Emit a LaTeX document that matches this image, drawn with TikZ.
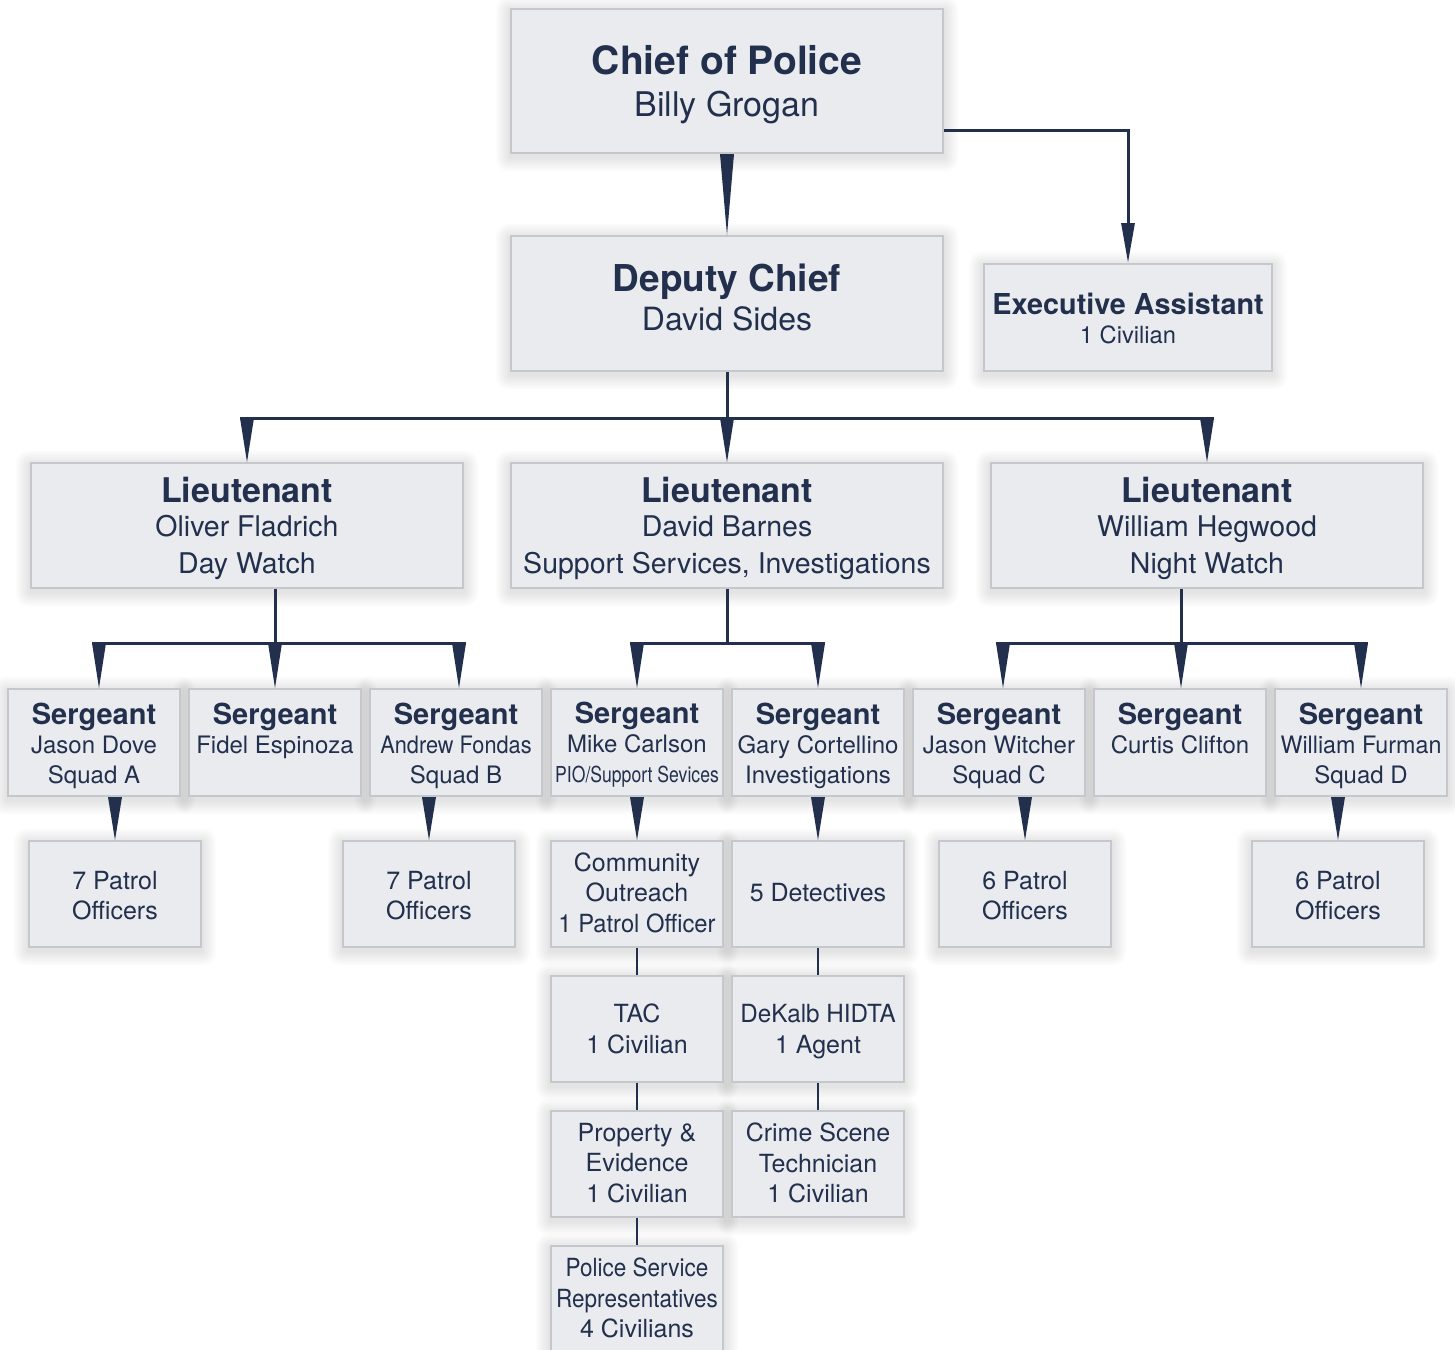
\documentclass[tikz,border=0pt]{standalone}
\usepackage{fontspec}
\setmainfont{TeX Gyre Heros}
\usepackage{graphicx}
\usetikzlibrary{calc,arrows.meta}
\definecolor{navy}{HTML}{23304D}
\definecolor{bxfill}{HTML}{E9EBEE}
\definecolor{bxline}{HTML}{C4C7CC}
\newcommand\hsq[2]{\scalebox{#1}[1]{#2}}
\newcommand\fs[1]{\fontsize{#1}{#1}\selectfont}
\newcommand\tcon[2]{\fill[navy] ($(#1)+(-7,0)$) -- ($(#1)+(7,0)$) -- (#2) -- cycle;}
\pgfdeclarelayer{back}
\pgfdeclarelayer{shade}
\pgfsetlayers{back,shade,main}
\begin{document}
\begin{tikzpicture}[x=1pt,y=-1pt,
  bx/.style={draw=bxline,line width=2pt,fill=bxfill,inner sep=0pt},
  tx/.style={inner sep=0pt,align=center,text=navy},
  topbox/.style={bx,minimum width=432},
  ltbox/.style={bx,minimum width=432,minimum height=125},
  sgbox/.style={bx,minimum width=172,minimum height=107},
  lowbox/.style={bx,minimum width=172,minimum height=106},
  lttx/.style={tx,font=\fontsize{28.5}{36.5}\selectfont},
  sgtx/.style={tx,font=\fontsize{24}{29.5}\selectfont},
  lowtx/.style={tx,font=\fontsize{25}{30.5}\selectfont},
  conn/.style={draw=navy,line width=3pt},
  link/.style={draw=navy,line width=2.6pt}]
\begin{pgfonlayer}{back}
\fill[white] (0,0) rectangle (1455,1349);
\end{pgfonlayer}
\useasboundingbox (0,0) rectangle (1455,1349);

% ---------- boxes ----------
\node[topbox,minimum height=144] (chief) at (727,81) {};
\node[topbox,minimum height=135] (deputy) at (727,303.5) {};
\node[bx,minimum width=288,minimum height=107] (exec) at (1128,317.5) {};
\node[ltbox] (lt1) at (247,525.5) {};
\node[ltbox] (lt2) at (727,525.5) {};
\node[ltbox] (lt3) at (1207,525.5) {};
\node[sgbox] (s1) at (94,742.5) {};
\node[sgbox] (s2) at (275,742.5) {};
\node[sgbox] (s3) at (456,742.5) {};
\node[sgbox] (s4) at (637,742.5) {};
\node[sgbox] (s5) at (818,742.5) {};
\node[sgbox] (s6) at (999,742.5) {};
\node[sgbox] (s7) at (1180,742.5) {};
\node[sgbox] (s8) at (1361,742.5) {};
\node[lowbox] (p1) at (115,894) {};
\node[lowbox] (p3) at (429,894) {};
\node[lowbox] (comm) at (637,894) {};
\node[lowbox] (det) at (818,894) {};
\node[lowbox] (p6) at (1025,894) {};
\node[lowbox] (p8) at (1338,894) {};
\node[lowbox] (tac) at (637,1029) {};
\node[lowbox] (dek) at (818,1029) {};
\node[lowbox] (prop) at (637,1164) {};
\node[lowbox] (csi) at (818,1164) {};
\node[lowbox] (psr) at (637,1299) {};

% ---------- soft shadows ----------
\begin{pgfonlayer}{shade}
\foreach \n in {chief,deputy,exec,lt1,lt2,lt3,s1,s2,s3,s4,s5,s6,s7,s8,p1,p3,comm,det,p6,p8,tac,dek,prop,csi,psr}{
  \foreach \k in {1,...,9}{
    \fill[black,opacity=0.011,rounded corners=\k*1.5pt]
      ($(\n.south west)+(-\k*1.6,\k*1.6+3)$) rectangle ($(\n.north east)+(\k*1.6,-\k*1.6+3)$);
  }
}
\end{pgfonlayer}

% ---------- texts ----------
\node[tx,font=\fontsize{34}{42}\selectfont] (chieft) at ($(chief.center)+(0,4)$) {{\fs{39}\bfseries Chief of Police}\\Billy Grogan};
\node[tx,font=\fontsize{32}{39.5}\selectfont] (deputyt) at ($(deputy.center)+(0,-6)$) {{\fs{37}\bfseries Deputy Chief}\\David Sides};
\node[tx,font=\fontsize{23.7}{29.5}\selectfont] (exect) at ($(exec.center)+(0,1)$) {{\fs{28.8}\bfseries Executive Assistant}\\1 Civilian};

\node[lttx] (lt1t) at ($(lt1.center)+(0,2.5)$) {{\fs{34}\bfseries Lieutenant}\\[-2pt]Oliver Fladrich\\Day Watch};
\node[lttx] (lt2t) at ($(lt2.center)+(0,2.5)$) {{\fs{34}\bfseries Lieutenant}\\[-2pt]David Barnes\\Support Services, Investigations};
\node[lttx] (lt3t) at ($(lt3.center)+(0,2.5)$) {{\fs{34}\bfseries Lieutenant}\\[-2pt]William Hegwood\\Night Watch};

\node[sgtx] (s1t) at ($(s1.center)+(0,3)$) {{\fs{29}\bfseries Sergeant}\\Jason Dove\\Squad A};
\node[sgtx,anchor=north] (s2t) at ($(s1t.north-|s2.center)$) {{\fs{29}\bfseries Sergeant}\\Fidel Espinoza};
\node[sgtx] (s3t) at ($(s3.center)+(0,3)$) {{\fs{29}\bfseries Sergeant}\\\hsq{0.905}{Andrew Fondas}\\Squad B};
\node[sgtx] (s4t) at ($(s4.center)+(0,2)$) {{\fs{29}\bfseries Sergeant}\\Mike Carlson\\\hsq{0.80}{\fs{22}PIO/Support Sevices}};
\node[sgtx] (s5t) at ($(s5.center)+(0,3)$) {{\fs{29}\bfseries Sergeant}\\Gary Cortellino\\Investigations};
\node[sgtx] (s6t) at ($(s6.center)+(0,3)$) {{\fs{29}\bfseries Sergeant}\\Jason Witcher\\Squad C};
\node[sgtx,anchor=north] (s7t) at ($(s1t.north-|s7.center)$) {{\fs{29}\bfseries Sergeant}\\Curtis Clifton};
\node[sgtx] (s8t) at ($(s8.center)+(0,3)$) {{\fs{29}\bfseries Sergeant}\\\hsq{0.97}{William Furman}\\Squad D};

\node[lowtx] (p1t) at ($(p1.center)+(0,1.5)$) {7 Patrol\\Officers};
\node[lowtx] (p3t) at ($(p3.center)+(0,1.5)$) {7 Patrol\\Officers};
\node[lowtx] (commt) at ($(comm.center)+(0,-1.5)$) {Community\\Outreach\\\hsq{0.95}{1 Patrol Officer}};
\node[lowtx] (dett) at ($(det.center)+(0,-1)$) {5 Detectives};
\node[lowtx] (p6t) at ($(p6.center)+(0,1.5)$) {6 Patrol\\Officers};
\node[lowtx] (p8t) at ($(p8.center)+(0,1.5)$) {6 Patrol\\Officers};
\node[lowtx] (tact) at (tac.center) {TAC\\1 Civilian};
\node[lowtx] (dekt) at ($(dek.center)+(0,2.5)$) {\hsq{0.97}{DeKalb HIDTA}\\1 Agent};
\node[lowtx] (propt) at ($(prop.center)+(0,-1)$) {Property \&\\Evidence\\1 Civilian};
\node[lowtx] (csit) at ($(csi.center)+(0,-1)$) {Crime Scene\\Technician\\1 Civilian};
\node[lowtx] (psrt) at ($(psr.center)+(0,-1)$) {\hsq{0.9}{Police Service}\\\hsq{0.9}{Representatives}\\4 Civilians};

% ---------- connectors ----------
\tcon{chief.south}{deputy.north}
\draw[conn,-{Triangle[width=13pt,length=40pt]}] ($(chief.north east)+(0,122)$) -| (exec.north);

\draw[conn] (deputy.south) -- ++(0,46) coordinate (jd);
\draw[conn] ($(lt1.north|-jd)+(-7,0)$) -- ($(lt3.north|-jd)+(7,0)$);
\tcon{lt1.north|-jd}{lt1.north}
\tcon{lt2.north|-jd}{lt2.north}
\tcon{lt3.north|-jd}{lt3.north}

\coordinate (t1) at ($(s1.north)+(5,0)$);
\coordinate (t2) at (s2.north);
\coordinate (t3) at ($(s3.north)+(3,0)$);
\coordinate (t4) at (s4.north);
\coordinate (t5) at (s5.north);
\coordinate (t6) at ($(s6.north)+(4,0)$);
\coordinate (t7) at ($(s7.north)+(1,0)$);
\coordinate (t8) at (s8.north);

\draw[conn] (lt1.south-|t2) -- ++(0,54) coordinate (j1);
\draw[conn] ($(t1|-j1)+(-7,0)$) -- ($(t3|-j1)+(7,0)$);
\tcon{t1|-j1}{t1}
\tcon{t2|-j1}{t2}
\tcon{t3|-j1}{t3}

\draw[conn] (lt2.south) -- ++(0,54) coordinate (j2);
\draw[conn] ($(t4|-j2)+(-7,0)$) -- ($(t5|-j2)+(7,0)$);
\tcon{t4|-j2}{t4}
\tcon{t5|-j2}{t5}

\draw[conn] (lt3.south-|t7) -- ++(0,54) coordinate (j3);
\draw[conn] ($(t6|-j3)+(-7,0)$) -- ($(t8|-j3)+(7,0)$);
\tcon{t6|-j3}{t6}
\tcon{t7|-j3}{t7}
\tcon{t8|-j3}{t8}

\tcon{s1.south-|p1.north}{p1.north}
\tcon{s3.south-|p3.north}{p3.north}
\tcon{s4.south-|comm.north}{comm.north}
\tcon{s5.south-|det.north}{det.north}
\tcon{s6.south-|p6.north}{p6.north}
\tcon{s8.south-|p8.north}{p8.north}

\draw[link] (comm.south) -- (tac.north);
\draw[link] (tac.south) -- (prop.north);
\draw[link] (prop.south) -- (psr.north);
\draw[link] (det.south) -- (dek.north);
\draw[link] (dek.south) -- (csi.north);
\end{tikzpicture}
\end{document}
